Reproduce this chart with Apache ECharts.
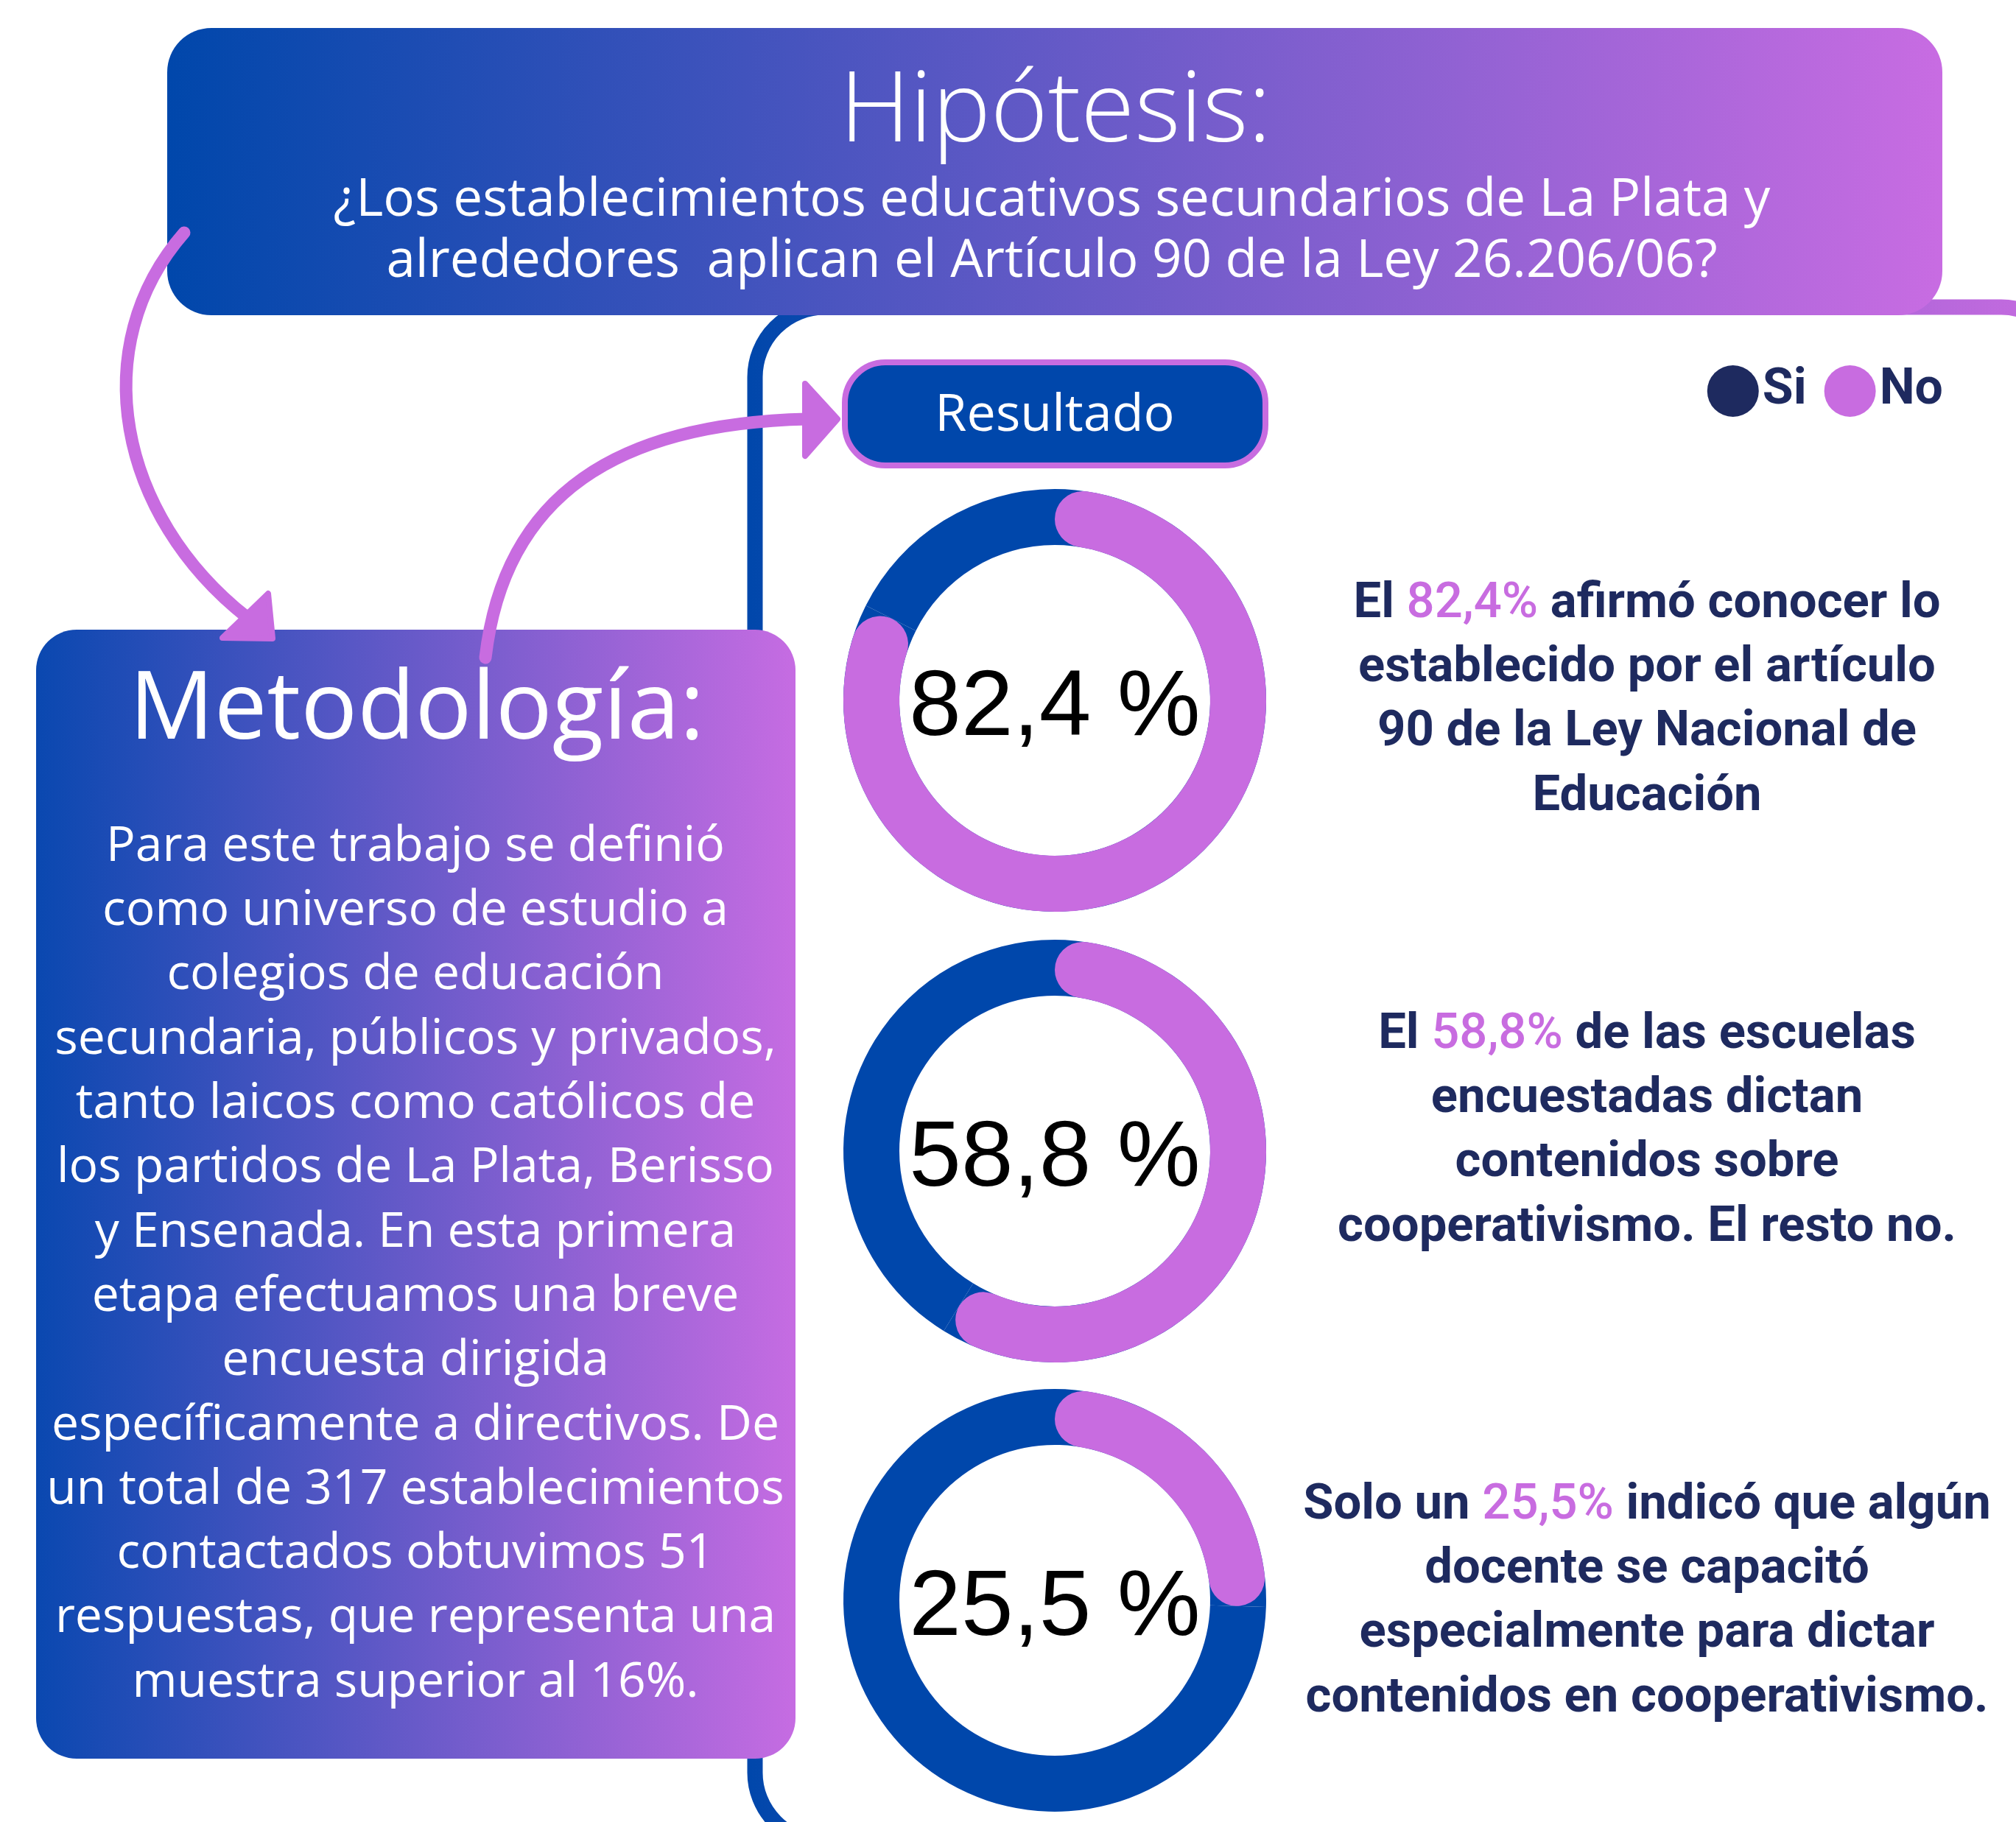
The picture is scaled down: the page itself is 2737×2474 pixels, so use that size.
<!DOCTYPE html>
<html>
<head>
<meta charset="utf-8">
<script src="https://cdn.jsdelivr.net/npm/echarts@6/dist/echarts.min.js"></script>
<style>
  html, body { margin: 0; padding: 0; background: #fff; }
  #main { width: 2737px; height: 2474px; }
</style>
</head>
<body>
<div id="main"></div>
<script>
// datos de la encuesta
var categories = ['Si', 'No'];
var percentages = [82.4, 58.8, 25.5];
var statementHead = [
    ['El ', ' afirmó conocer lo'],
    ['El ', ' de las escuelas'],
    ['Solo un ', ' indicó que algún']
];
var statementRest = [
    ['establecido por el artículo', '90 de la Ley Nacional de', 'Educación'],
    ['encuestadas dictan', 'contenidos sobre', 'cooperativismo. El resto no.'],
    ['docente se capacitó', 'especialmente para dictar', 'contenidos en cooperativismo.']
];
var methodLines = [
    'Para este trabajo se definió',
    'como universo de estudio a',
    'colegios de educación',
    'secundaria, públicos y privados,',
    'tanto laicos como católicos de',
    'los partidos de La Plata, Berisso',
    'y Ensenada. En esta primera',
    'etapa efectuamos una breve',
    'encuesta dirigida',
    'específicamente a directivos. De',
    'un total de 317 establecimientos',
    'contactados obtuvimos 51',
    'respuestas, que representa una',
    'muestra superior al 16%.'
];

var BLUE = '#0047AB';
var PINK = '#C86CE0';
var NAVY = '#1E2A5F';

function fmt(v) {
    return String(v).replace('.', ',');
}

var myChart = echarts.init(document.getElementById('main'));

var donutY = [951, 1563, 2173];
var textY = [821, 1406, 2045];

var series = [];
var graphics = [];

// panel blanco con borde
graphics.push({
    type: 'rect', z: 0,
    shape: { x: 1025, y: 417, width: 1787, height: 2085, r: 95 },
    style: {
        fill: '#fff', lineWidth: 21,
        stroke: new echarts.graphic.LinearGradient(0, 0, 1, 0, [
            { offset: 0, color: BLUE }, { offset: 0.6, color: '#8a5cd0' }, { offset: 1, color: PINK }
        ])
    }
});
// encabezado
graphics.push({
    type: 'rect', z: 1,
    shape: { x: 227, y: 38, width: 2410, height: 390, r: 60 },
    style: {
        fill: new echarts.graphic.LinearGradient(0, 0, 1, 0, [
            { offset: 0, color: '#0047AB' }, { offset: 1, color: '#C86CE2' }
        ])
    }
});
graphics.push({
    type: 'text', z: 2, x: 1433, y: 154,
    style: {
        text: 'Hipótesis:', fill: '#fff', fontSize: 133, fontFamily: 'Open Sans', fontWeight: 300,
        align: 'center', textAlign: 'center', verticalAlign: 'middle', textVerticalAlign: 'middle'
    }
});
graphics.push({
    type: 'text', z: 2, x: 1428, y: 231,
    style: {
        text: '¿Los establecimientos educativos secundarios de La Plata y\nalrededores  aplican el Artículo 90 de la Ley 26.206/06?',
        fill: '#fff', fontSize: 71, fontFamily: 'Open Sans', lineHeight: 83,
        align: 'center', textAlign: 'center', verticalAlign: 'top', textVerticalAlign: 'top'
    }
});
// caja metodologia
graphics.push({
    type: 'rect', z: 1,
    shape: { x: 49, y: 855, width: 1031, height: 1533, r: 55 },
    style: {
        fill: new echarts.graphic.LinearGradient(0, 0, 1, 0, [
            { offset: 0, color: '#0A48B0' }, { offset: 1, color: '#C66CE2' }
        ])
    }
});
graphics.push({
    type: 'text', z: 2, x: 566, y: 967,
    style: {
        text: 'Metodología:', fill: '#fff', fontSize: 128, fontFamily: 'Open Sans',
        align: 'center', textAlign: 'center', verticalAlign: 'middle', textVerticalAlign: 'middle'
    }
});
graphics.push({
    type: 'text', z: 2, x: 564, y: 1150 - 43.6,
    style: {
        text: methodLines.join('\n'), fill: '#fff', fontSize: 66, fontFamily: 'Open Sans', lineHeight: 87.3,
        align: 'center', textAlign: 'center', verticalAlign: 'top', textVerticalAlign: 'top'
    }
});
// boton resultado
graphics.push({
    type: 'rect', z: 2,
    shape: { x: 1147, y: 492, width: 571, height: 140, r: 55 },
    style: { fill: BLUE, stroke: PINK, lineWidth: 8 }
});
graphics.push({
    type: 'text', z: 3, x: 1432, y: 565,
    style: {
        text: 'Resultado', fill: '#fff', fontSize: 70, fontFamily: 'Open Sans',
        align: 'center', textAlign: 'center', verticalAlign: 'middle', textVerticalAlign: 'middle'
    }
});
// flechas
graphics.push({
    type: 'bezierCurve', z: 4,
    shape: { x1: 250, y1: 316, cpx1: 115, cpy1: 470, cpx2: 160, cpy2: 700, x2: 335, y2: 838 },
    style: { stroke: PINK, lineWidth: 17, lineCap: 'round', fill: null }
});
graphics.push({
    type: 'polygon', z: 4,
    shape: { points: [[364, 806], [370, 867], [302, 866]] },
    style: { fill: PINK, stroke: PINK, lineWidth: 8, lineJoin: 'round' }
});
graphics.push({
    type: 'bezierCurve', z: 4,
    shape: { x1: 659, y1: 893, cpx1: 685, cpy1: 670, cpx2: 840, cpy2: 575, x2: 1096, y2: 569 },
    style: { stroke: PINK, lineWidth: 17, lineCap: 'round', fill: null }
});
graphics.push({
    type: 'polygon', z: 4,
    shape: { points: [[1093, 521], [1137, 569], [1093, 619]] },
    style: { fill: PINK, stroke: PINK, lineWidth: 8, lineJoin: 'round' }
});

percentages.forEach(function (p, i) {
    var rest = +(100 - p).toFixed(1);
    series.push({
        type: 'pie', silent: true, z: 2,
        center: [1432, donutY[i]], radius: [211, 287], startAngle: 90,
        label: { show: false }, labelLine: { show: false }, emphasis: { disabled: true },
        itemStyle: { borderWidth: 0 },
        data: [
            { name: categories[0], value: p, itemStyle: { color: BLUE } },
            { name: categories[1], value: rest, itemStyle: { color: BLUE } }
        ]
    });
    series.push({
        type: 'pie', silent: true, z: 3,
        center: [1432, donutY[i]], radius: [211, 287], startAngle: 90,
        label: { show: false }, labelLine: { show: false }, emphasis: { disabled: true },
        itemStyle: { borderWidth: 0, borderRadius: 38 },
        data: [
            {
                name: categories[0], value: p, itemStyle: { color: PINK },
                label: {
                    show: true, position: 'center', offset: [0, 12],
                    formatter: function (d) { return fmt(d.value) + ' %'; },
                    color: '#000', fontSize: 127, fontFamily: 'Liberation Sans'
                }
            },
            { name: categories[1], value: rest, itemStyle: { color: 'rgba(0,0,0,0)' } }
        ]
    });
    var txt = '{n|' + statementHead[i][0] + '}{p|' + fmt(p) + '%}{n|' + statementHead[i][1] + '}';
    statementRest[i].forEach(function (l) { txt += '\n{n|' + l + '}'; });
    graphics.push({
        type: 'text', z: 3, x: 2236, y: textY[i] - 43.6,
        style: {
            text: txt,
            align: 'center', textAlign: 'center', verticalAlign: 'top', textVerticalAlign: 'top',
            rich: {
                n: { fill: NAVY, color: NAVY, fontSize: 67, fontWeight: 'bold', fontFamily: 'Roboto', lineHeight: 87.3 },
                p: { fill: PINK, color: PINK, fontSize: 67, fontWeight: 500, fontFamily: 'Roboto', lineHeight: 87.3 }
            }
        }
    });
});

var option = {
    animation: false,
    legend: {
        right: 99, top: 496, padding: 0,
        itemWidth: 70, itemHeight: 70, itemGap: 24, icon: 'circle', selectedMode: false,
        textStyle: { fontSize: 68, fontWeight: 'bold', fontFamily: 'Roboto', color: NAVY },
        data: [
            { name: categories[0], itemStyle: { color: NAVY } },
            { name: categories[1], itemStyle: { color: PINK } }
        ]
    },
    graphic: { elements: graphics },
    series: series
};
myChart.setOption(option);
</script>
</body>
</html>
